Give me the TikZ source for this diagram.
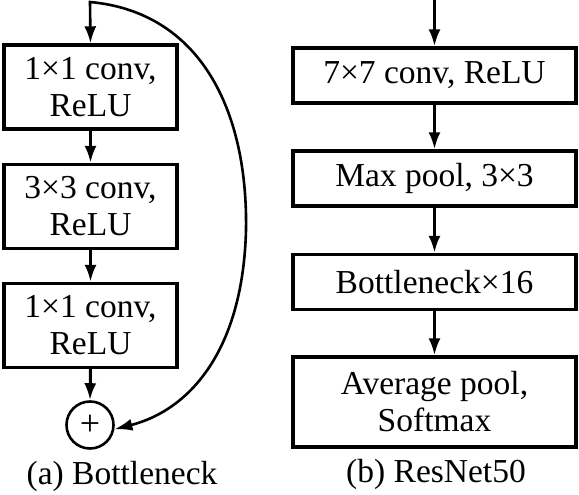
\documentclass[tikz,border=0pt]{standalone}
\usepackage{fontspec}
\setmainfont{Liberation Serif}
\usetikzlibrary{arrows.meta}
\begin{document}
\begin{tikzpicture}[x=1pt,y=-1pt,
  box/.style={draw,line width=3.4pt,align=center,inner sep=0pt,
    font=\fontsize{33.5}{37}\selectfont},
  arr/.style={line width=3pt,-{Latex[length=17pt,width=12pt]}},
  captext/.style={font=\fontsize{33.5}{37}\selectfont,inner sep=0pt}]
\useasboundingbox (0,0) rectangle (579,495);
% left column
\node[box,minimum width=173pt,minimum height=84pt] (b1) at (90.5,87) {1×1 conv,\\ReLU};
\node[box,minimum width=173pt,minimum height=84pt] (b2) at (90.5,206.5) {3×3 conv,\\ReLU};
\node[box,minimum width=173pt,minimum height=84pt] (b3) at (90.5,325.5) {1×1 conv,\\ReLU};
\node[draw,circle,line width=2.6pt,minimum size=47pt,inner sep=0pt,
  font=\fontsize{36}{37}\selectfont] (plus) at (90,425) {+};
\coordinate (topc) at (90,2);
\draw[arr] (b1.south) -- (b2.north);
\draw[arr] (b2.south) -- (b3.north);
\draw[arr] (b3.south) -- (plus.north);
\draw[line width=2.6pt,{Latex[length=17pt,width=12pt]}-{Latex[length=18pt,width=12pt]}]
  (b1.north) -- (topc) .. controls (200,12) and (248,110) .. (246,230)
  .. controls (243,350) and (190,410) .. (plus.-10);
\node[captext] (capa) at (122,476) {(a) Bottleneck};
% right column
\node[box,minimum width=283pt,minimum height=55pt] (r1) at (434.5,75.5) {7×7 conv, ReLU};
\node[box,minimum width=283pt,minimum height=55pt] (r2) at (434.5,178.5) {Max pool, 3×3};
\node[box,minimum width=283pt,minimum height=55pt] (r3) at (434.5,282) {Bottleneck×16};
\node[box,minimum width=283pt,minimum height=90pt] (r4) at (434.5,402) {Average pool,\\Softmax};
\coordinate (rtop) at (434.5,0);
\draw[arr] (rtop) -- (r1.north);
\draw[arr] (r1.south) -- (r2.north);
\draw[arr] (r2.south) -- (r3.north);
\draw[arr] (r3.south) -- (r4.north);
\node[captext] (capb) at (436,474) {(b) ResNet50};
\end{tikzpicture}
\end{document}
